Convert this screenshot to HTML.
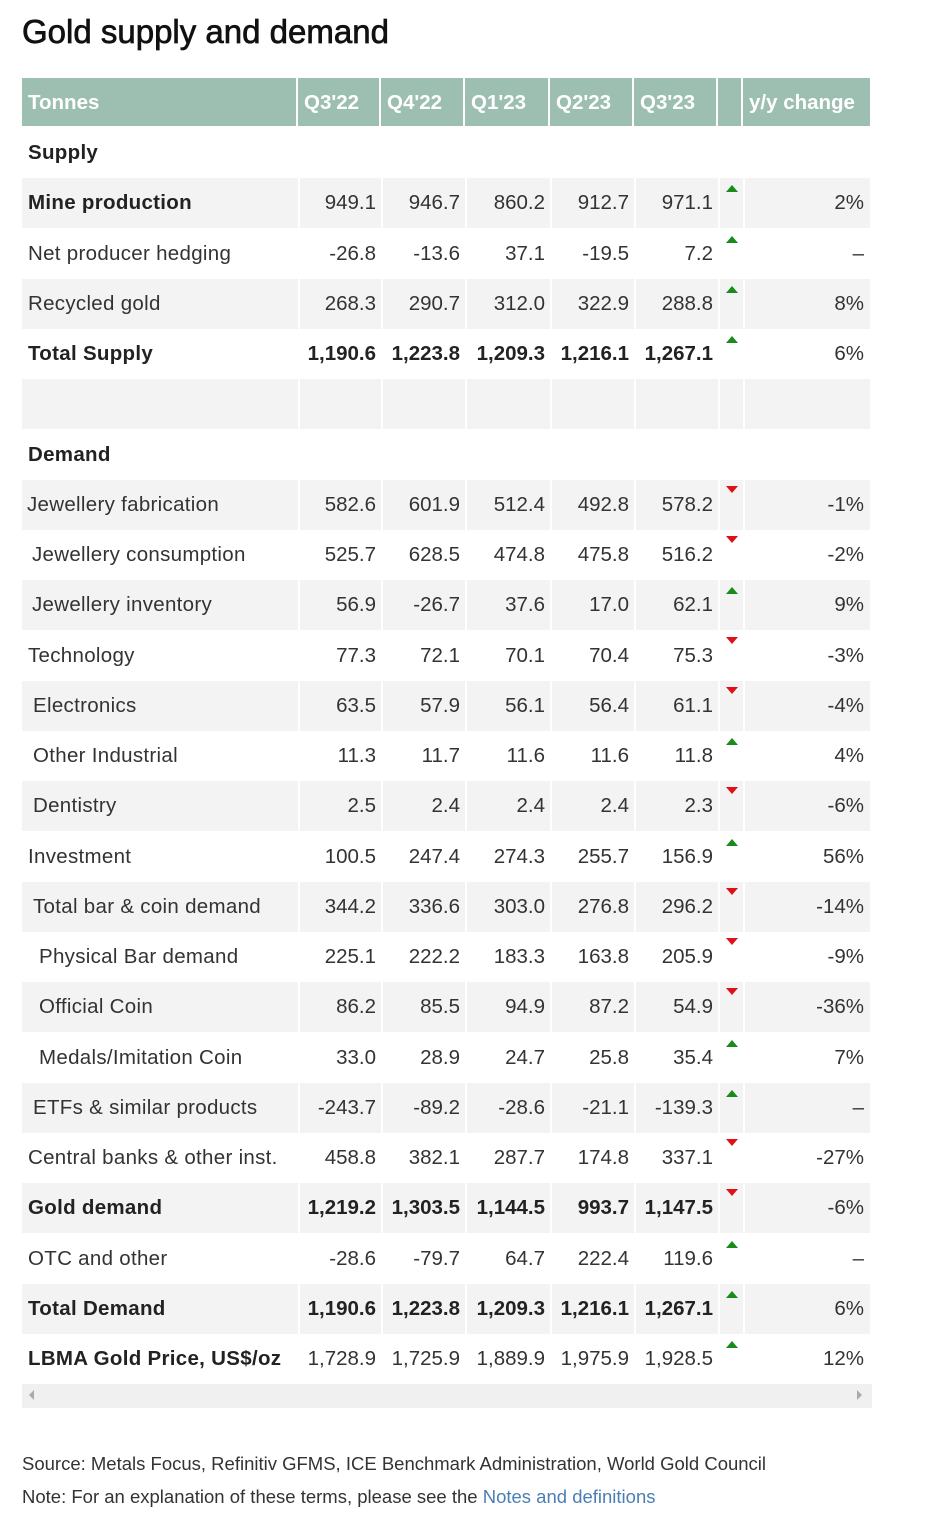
<!DOCTYPE html>
<html><head><meta charset="utf-8"><style>
body{margin:0;background:#fff;width:938px;height:1540px;position:relative;font-family:"Liberation Sans","DejaVu Sans",sans-serif;color:#333;overflow:hidden}
h1{position:absolute;left:22px;top:13px;margin:0;font-size:33px;font-weight:normal;color:#111;-webkit-text-stroke:0.7px #111}
.hdr{position:absolute;top:78px;height:48px;background:#9dbfb2;color:#fff;font-weight:bold;font-size:20.5px;line-height:50px;box-sizing:border-box;padding-left:6px;border-right:2px solid #fff}
.row{position:absolute;left:22px;width:848px;height:50px;font-size:20.5px}
.g{background:#f3f3f3}
.c{position:absolute;top:0;height:50px;line-height:50px;text-align:right;box-sizing:border-box}
.g .c{border-left:2px solid #fff}
.l{position:absolute;top:0;line-height:50px;left:6px;white-space:nowrap;letter-spacing:0.3px}
.b{font-weight:bold;color:#222}
.up,.dn{position:absolute;left:704px;width:0;height:0;border-left:6px solid transparent;border-right:6px solid transparent}
.up{top:7px;border-bottom:7px solid #1a8a1a}
.dn{top:6px;border-top:7px solid #e0101a}
.foot{position:absolute;left:22px;font-size:18.5px;color:#333}
</style></head><body>
<h1>Gold supply and demand</h1>
<div class="hdr" style="left:22px;width:276px">Tonnes</div>
<div class="hdr" style="left:298px;width:83px">Q3'22</div>
<div class="hdr" style="left:381px;width:84px">Q4'22</div>
<div class="hdr" style="left:465px;width:85px">Q1'23</div>
<div class="hdr" style="left:550px;width:84px">Q2'23</div>
<div class="hdr" style="left:634px;width:84px">Q3'23</div>
<div class="hdr" style="left:718px;width:25px"></div>
<div class="hdr" style="left:743px;width:127px;border-right:none">y/y change</div>
<div id="t"></div>
<div style="position:absolute;left:22px;top:1384px;width:850px;height:24px;background:#f0f0f0"></div>
<div style="position:absolute;left:29px;top:1390px;width:0;height:0;border-top:5px solid transparent;border-bottom:5px solid transparent;border-right:5px solid #aaa"></div>
<div style="position:absolute;left:857px;top:1390px;width:0;height:0;border-top:5px solid transparent;border-bottom:5px solid transparent;border-left:5px solid #aaa"></div>
<div class="foot" style="top:1453px">Source: Metals Focus, Refinitiv GFMS, ICE Benchmark Administration, World Gold Council</div>
<div class="foot" style="top:1486px">Note: For an explanation of these terms, please see the <span style="color:#4a7fb5">Notes and definitions</span></div>
<script>
(function(){
var R=[
["Supply",6,1,null],
["Mine production",6,1,["949.1","946.7","860.2","912.7","971.1"],"u","2%"],
["Net producer hedging",6,0,["-26.8","-13.6","37.1","-19.5","7.2"],"u","–"],
["Recycled gold",6,0,["268.3","290.7","312.0","322.9","288.8"],"u","8%"],
["Total Supply",6,1,["1,190.6","1,223.8","1,209.3","1,216.1","1,267.1"],"u","6%",1],
["",6,0,["","","","",""],"",""],
["Demand",6,1,null],
["Jewellery fabrication",5,0,["582.6","601.9","512.4","492.8","578.2"],"d","-1%"],
["Jewellery consumption",10,0,["525.7","628.5","474.8","475.8","516.2"],"d","-2%"],
["Jewellery inventory",10,0,["56.9","-26.7","37.6","17.0","62.1"],"u","9%"],
["Technology",6,0,["77.3","72.1","70.1","70.4","75.3"],"d","-3%"],
["Electronics",11,0,["63.5","57.9","56.1","56.4","61.1"],"d","-4%"],
["Other Industrial",11,0,["11.3","11.7","11.6","11.6","11.8"],"u","4%"],
["Dentistry",11,0,["2.5","2.4","2.4","2.4","2.3"],"d","-6%"],
["Investment",6,0,["100.5","247.4","274.3","255.7","156.9"],"u","56%"],
["Total bar &amp; coin demand",11,0,["344.2","336.6","303.0","276.8","296.2"],"d","-14%"],
["Physical Bar demand",17,0,["225.1","222.2","183.3","163.8","205.9"],"d","-9%"],
["Official Coin",17,0,["86.2","85.5","94.9","87.2","54.9"],"d","-36%"],
["Medals/Imitation Coin",17,0,["33.0","28.9","24.7","25.8","35.4"],"u","7%"],
["ETFs &amp; similar products",11,0,["-243.7","-89.2","-28.6","-21.1","-139.3"],"u","–"],
["Central banks &amp; other inst.",6,0,["458.8","382.1","287.7","174.8","337.1"],"d","-27%"],
["Gold demand",6,1,["1,219.2","1,303.5","1,144.5","993.7","1,147.5"],"d","-6%",1],
["OTC and other",6,0,["-28.6","-79.7","64.7","222.4","119.6"],"u","–"],
["Total Demand",6,1,["1,190.6","1,223.8","1,209.3","1,216.1","1,267.1"],"u","6%",1],
["LBMA Gold Price, US$/oz",6,1,["1,728.9","1,725.9","1,889.9","1,975.9","1,928.5"],"u","12%"]
];
var cols=[[276,83],[359,84],[443,85],[528,84],[612,84]];
var h="";
for(var i=0;i<R.length;i++){var r=R[i];var yy=128+i*50.25;
var lb=(r[2]&&i!=24)?' b':(i==24?' b':'');
h+='<div class="row'+(i%2?' g':'')+'" style="top:'+yy+'px"><div class="l'+lb+'" style="left:'+r[1]+'px">'+r[0]+'</div>';
if(r[3]){for(var j=0;j<5;j++)h+='<div class="c'+(r[6]?' b':'')+'" style="left:'+cols[j][0]+'px;width:'+cols[j][1]+'px;padding-right:5px">'+r[3][j]+'</div>';
h+='<div class="c" style="left:696px;width:25px"></div>';
if(r[4])h+='<div class="'+(r[4]=="u"?"up":"dn")+'"></div>';
h+='<div class="c" style="left:721px;width:127px;padding-right:6px">'+r[5]+'</div>';}
h+='</div>';}
document.getElementById("t").innerHTML=h;
})();
</script>
</body></html>
